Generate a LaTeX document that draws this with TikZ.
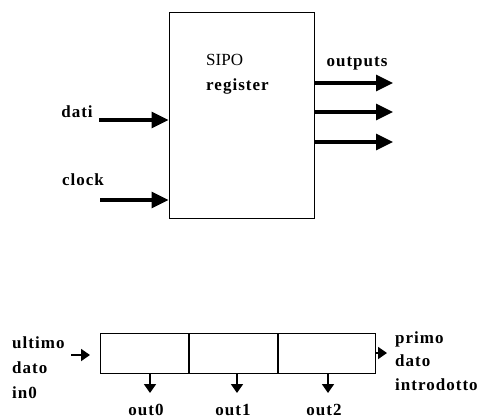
\documentclass[tikz,border=0pt]{standalone}
\usepackage{fontspec}
\setmainfont{Liberation Serif}
\usetikzlibrary{arrows.meta,positioning}

\begin{document}
\begin{tikzpicture}[x=1pt,y=-1pt]
\tikzset{
  blockbox/.style={rectangle,draw=black,line width=1pt,inner sep=0pt},
  lbl/.style={font=\fontsize{17}{20}\selectfont\bfseries\addfontfeature{LetterSpace=6},inner sep=0pt},
  bigarrow/.style={draw=black,line width=3.2pt,-{Triangle[length=17pt,width=16pt]}},
  smallarrow/.style={draw=black,line width=1.8pt,-{Triangle[length=9pt,width=12pt]}}
}
\useasboundingbox (0,0) rectangle (481,418);
% SIPO block
\node[blockbox,minimum width=145pt,minimum height=206pt] (sipo) at (241.5,115) {};
\node[inner sep=0pt,font=\fontsize{17}{25}\selectfont,align=left,anchor=north west] (siponame) at (206,54) {SIPO\\\bfseries\addfontfeature{LetterSpace=6}register};
\node[lbl] (dati) at (77,112) {dati};
\node[lbl] (clock) at (83,180) {clock};
\node[lbl] (outputs) at (357,64) {outputs};
\coordinate (datiin) at (99,120);
\coordinate (clockin) at (100,200);
\draw[bigarrow] (datiin) -- (datiin -| sipo.west);
\draw[bigarrow] (clockin) -- (clockin -| sipo.west);
\foreach \y [count=\i] in {83,112,142} {
  \coordinate (outend\i) at (393,\y);
  \draw[bigarrow] (outend\i -| sipo.east) -- (outend\i);
}
% shift register cells
\node[blockbox,minimum width=88pt,minimum height=40pt] (cell0) at (144,353) {};
\node[blockbox,minimum width=88pt,minimum height=40pt,right=0pt of cell0] (cell1) {};
\node[blockbox,minimum width=97pt,minimum height=40pt,right=0pt of cell1] (cell2) {};
\node[lbl,align=left,anchor=west,font=\fontsize{17}{25}\selectfont\bfseries\addfontfeature{LetterSpace=6}] (ultimo) at (12,368) {ultimo\\dato\\in0};
\node[lbl,align=left,anchor=west,font=\fontsize{17}{23.5}\selectfont\bfseries\addfontfeature{LetterSpace=6}] (primo) at (395,361) {primo\\dato\\introdotto};
\coordinate (inarrow) at (71,355);
\draw[smallarrow] (inarrow) -- ++(19,0);
\coordinate (primoarrow) at (387,353);
\draw[smallarrow] (primoarrow -| cell2.east) -- (primoarrow);
\foreach \c/\x/\lab in {cell0/150/out0,cell1/237/out1,cell2/328/out2} {
  \coordinate (\lab top) at (\x,373);
  \draw[smallarrow] (\lab top) -- ++(0,20);
  \node[lbl] (\lab) at (\x-4,410) {\lab};
}
\end{tikzpicture}
\end{document}
